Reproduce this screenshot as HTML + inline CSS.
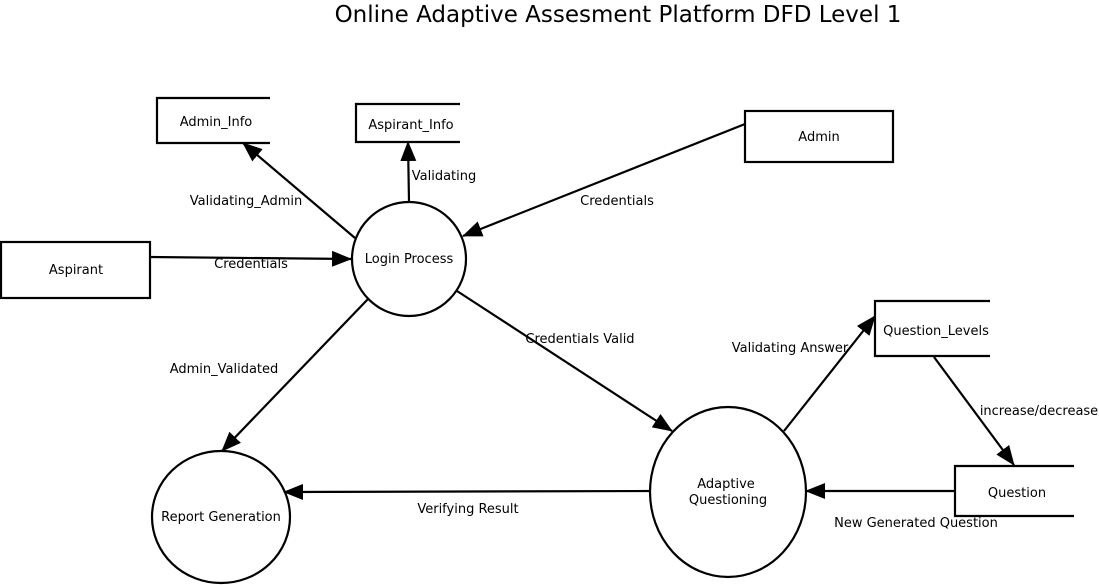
<!DOCTYPE html>
<html><head><meta charset="utf-8"><style>
html,body{margin:0;padding:0;background:#fff;}
svg{display:block;}
text{font-family:"DejaVu Sans","Liberation Sans",sans-serif;fill:#000;}
</style></head><body>
<svg width="1099" height="585" viewBox="0 0 1099 585" xmlns="http://www.w3.org/2000/svg" font-size="13">
<defs>
<marker id="a" markerWidth="20" markerHeight="16" refX="19" refY="8" orient="auto" markerUnits="userSpaceOnUse">
<path d="M0,0 L20,8 L0,16 Z" fill="#000"/>
</marker>
</defs>
<text x="618" y="22" text-anchor="middle" font-size="23">Online Adaptive Assesment Platform DFD Level 1</text>
<g fill="none" stroke="#000" stroke-width="2.2">
<path d="M270,98 H157 V143 H270"/>
<path d="M460,104 H356 V142 H460"/>
<rect x="745" y="111" width="148" height="51"/>
<rect x="1" y="242" width="149" height="56"/>
<circle cx="409" cy="259" r="57"/>
<path d="M990,301 H875 V356 H990"/>
<path d="M1074,466 H955 V516 H1074"/>
<ellipse cx="728" cy="492" rx="78" ry="85"/>
<ellipse cx="221" cy="517" rx="69" ry="66"/>
<g marker-end="url(#a)">
<line x1="355" y1="238" x2="243" y2="143"/>
<line x1="409" y1="202" x2="408" y2="142"/>
<line x1="745" y1="124" x2="463" y2="236"/>
<line x1="150" y1="257" x2="351" y2="259"/>
<line x1="368" y1="299" x2="222" y2="451"/>
<line x1="457" y1="291" x2="672" y2="431"/>
<line x1="784" y1="431" x2="875" y2="316"/>
<line x1="934" y1="357" x2="1014" y2="465"/>
<line x1="955" y1="491" x2="806" y2="491"/>
<line x1="650" y1="491" x2="284" y2="492"/>
</g>
</g>
<text x="216" y="126" text-anchor="middle">Admin_Info</text>
<text x="411" y="129" text-anchor="middle">Aspirant_Info</text>
<text x="819" y="141" text-anchor="middle">Admin</text>
<text x="76" y="274" text-anchor="middle">Aspirant</text>
<text x="409" y="263" text-anchor="middle">Login Process</text>
<text x="936" y="335" text-anchor="middle">Question_Levels</text>
<text x="1017" y="497" text-anchor="middle">Question</text>
<text x="726" y="488" text-anchor="middle">Adaptive</text>
<text x="728" y="504" text-anchor="middle">Questioning</text>
<text x="221" y="521" text-anchor="middle">Report Generation</text>
<text x="246" y="205" text-anchor="middle">Validating_Admin</text>
<text x="444" y="180" text-anchor="middle">Validating</text>
<text x="617" y="205" text-anchor="middle">Credentials</text>
<text x="251" y="268" text-anchor="middle">Credentials</text>
<text x="224" y="373" text-anchor="middle">Admin_Validated</text>
<text x="580" y="343" text-anchor="middle">Credentials Valid</text>
<text x="790" y="352" text-anchor="middle">Validating Answer</text>
<text x="1039" y="415" text-anchor="middle">increase/decrease</text>
<text x="916" y="527" text-anchor="middle">New Generated Question</text>
<text x="468" y="513" text-anchor="middle">Verifying Result</text>
</svg>
</body></html>
